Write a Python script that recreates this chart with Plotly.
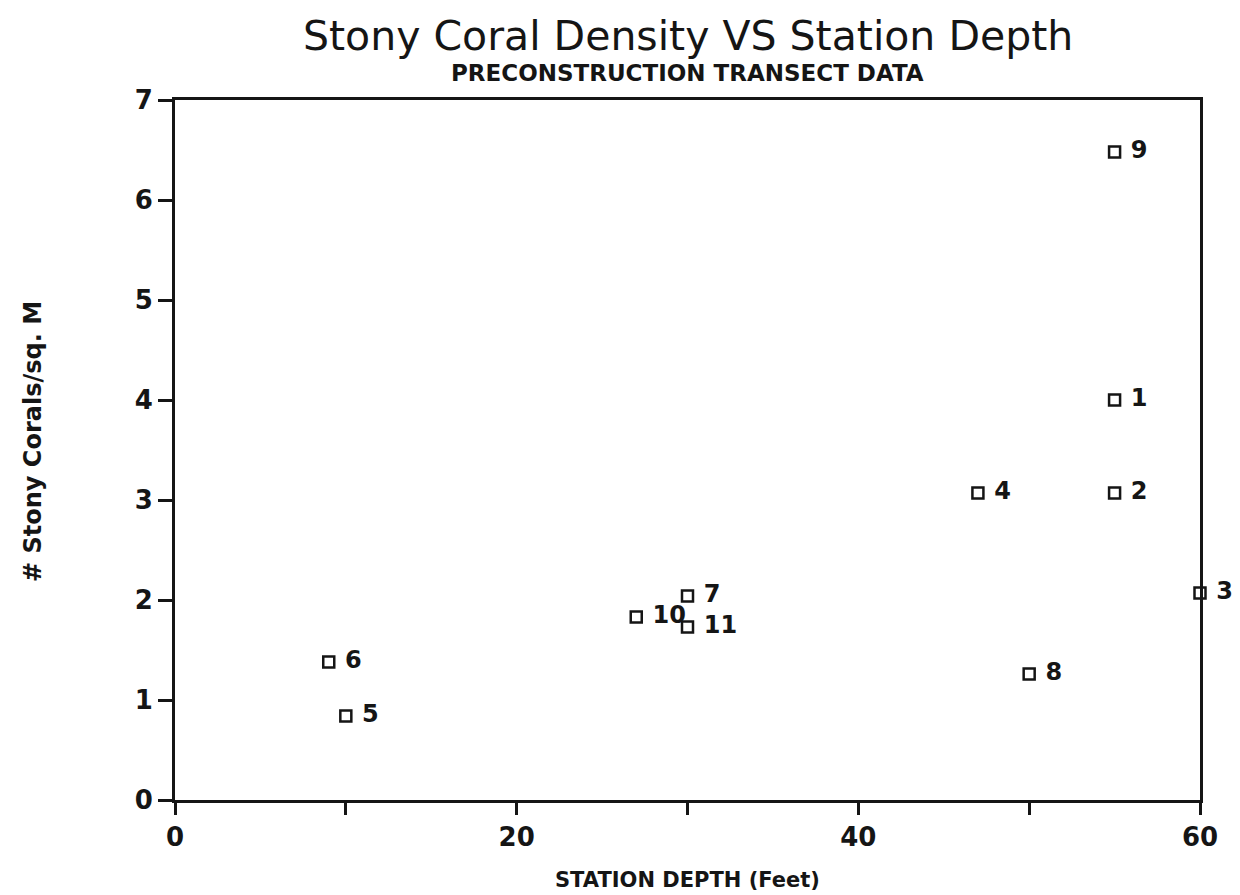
import plotly.graph_objects as go

# Station survey values: depth (feet) and stony coral density (# per sq. M)
stations = ["1", "2", "3", "4", "5", "6", "7", "8", "9", "10", "11"]
depth_ft = [55, 55, 60, 47, 10, 9, 30, 50, 55, 27, 30]
coral_density = [4.0, 3.07, 2.07, 3.07, 0.84, 1.38, 2.04, 1.26, 6.48, 1.83, 1.73]

x_ticks = [0, 10, 20, 30, 40, 50, 60]
x_tick_text = ["0", "", "20", "", "40", "", "60"]
y_ticks = [0, 1, 2, 3, 4, 5, 6, 7]

ink = "#151515"
bold_font = "DejaVu Sans"

fig = go.Figure()
fig.add_trace(go.Scatter(
    x=depth_ft,
    y=coral_density,
    mode="markers+text",
    text=[" " + s for s in stations],
    textposition="middle right",
    textfont=dict(family=bold_font, size=24, color=ink, weight="bold"),
    marker=dict(symbol="square-open", size=11, color=ink, line=dict(width=2.5, color=ink)),
    cliponaxis=False,
    showlegend=False,
))

fig.update_layout(
    width=1240,
    height=895,
    paper_bgcolor="white",
    plot_bgcolor="white",
    margin=dict(l=175, r=40, t=100, b=95, autoexpand=False),
    font=dict(family=bold_font, color=ink),
    annotations=[
        dict(text="Stony Coral Density VS Station Depth", x=0.5, y=1, xref="paper", yref="paper",
             yshift=64, showarrow=False, font=dict(family="DejaVu Sans", size=41, color=ink),
             yanchor="middle", xanchor="center"),
        dict(text="<b>PRECONSTRUCTION TRANSECT DATA</b>", x=0.5, y=1, xref="paper", yref="paper",
             yshift=27, showarrow=False, font=dict(family=bold_font, size=23, color=ink),
             yanchor="middle", xanchor="center"),
        dict(text="<b>STATION DEPTH (Feet)</b>", x=0.5, y=0, xref="paper", yref="paper",
             yshift=-80, showarrow=False, font=dict(family=bold_font, size=21, color=ink),
             yanchor="middle", xanchor="center"),
        dict(text="<b># Stony Corals/sq. M</b>", x=0, y=0.5, xref="paper", yref="paper",
             xshift=-142, yshift=8, textangle=-90, showarrow=False,
             font=dict(family=bold_font, size=24, color=ink),
             yanchor="middle", xanchor="center"),
    ],
)

fig.update_xaxes(
    range=[0, 60],
    tickvals=x_ticks,
    ticktext=x_tick_text,
    ticks="outside",
    ticklen=12,
    tickwidth=3,
    tickcolor=ink,
    showgrid=False,
    zeroline=False,
    showline=True,
    linewidth=3,
    linecolor=ink,
    mirror=True,
    automargin=False,
    tickfont=dict(family=bold_font, size=26, color=ink, weight="bold"),
)

fig.update_yaxes(
    range=[0, 7],
    tickvals=y_ticks,
    ticks="outside",
    ticklen=14,
    tickwidth=3,
    tickcolor=ink,
    showgrid=False,
    zeroline=False,
    showline=True,
    linewidth=3,
    linecolor=ink,
    mirror=True,
    automargin=False,
    tickfont=dict(family=bold_font, size=26, color=ink, weight="bold"),
)

fig.write_html("out.html")
